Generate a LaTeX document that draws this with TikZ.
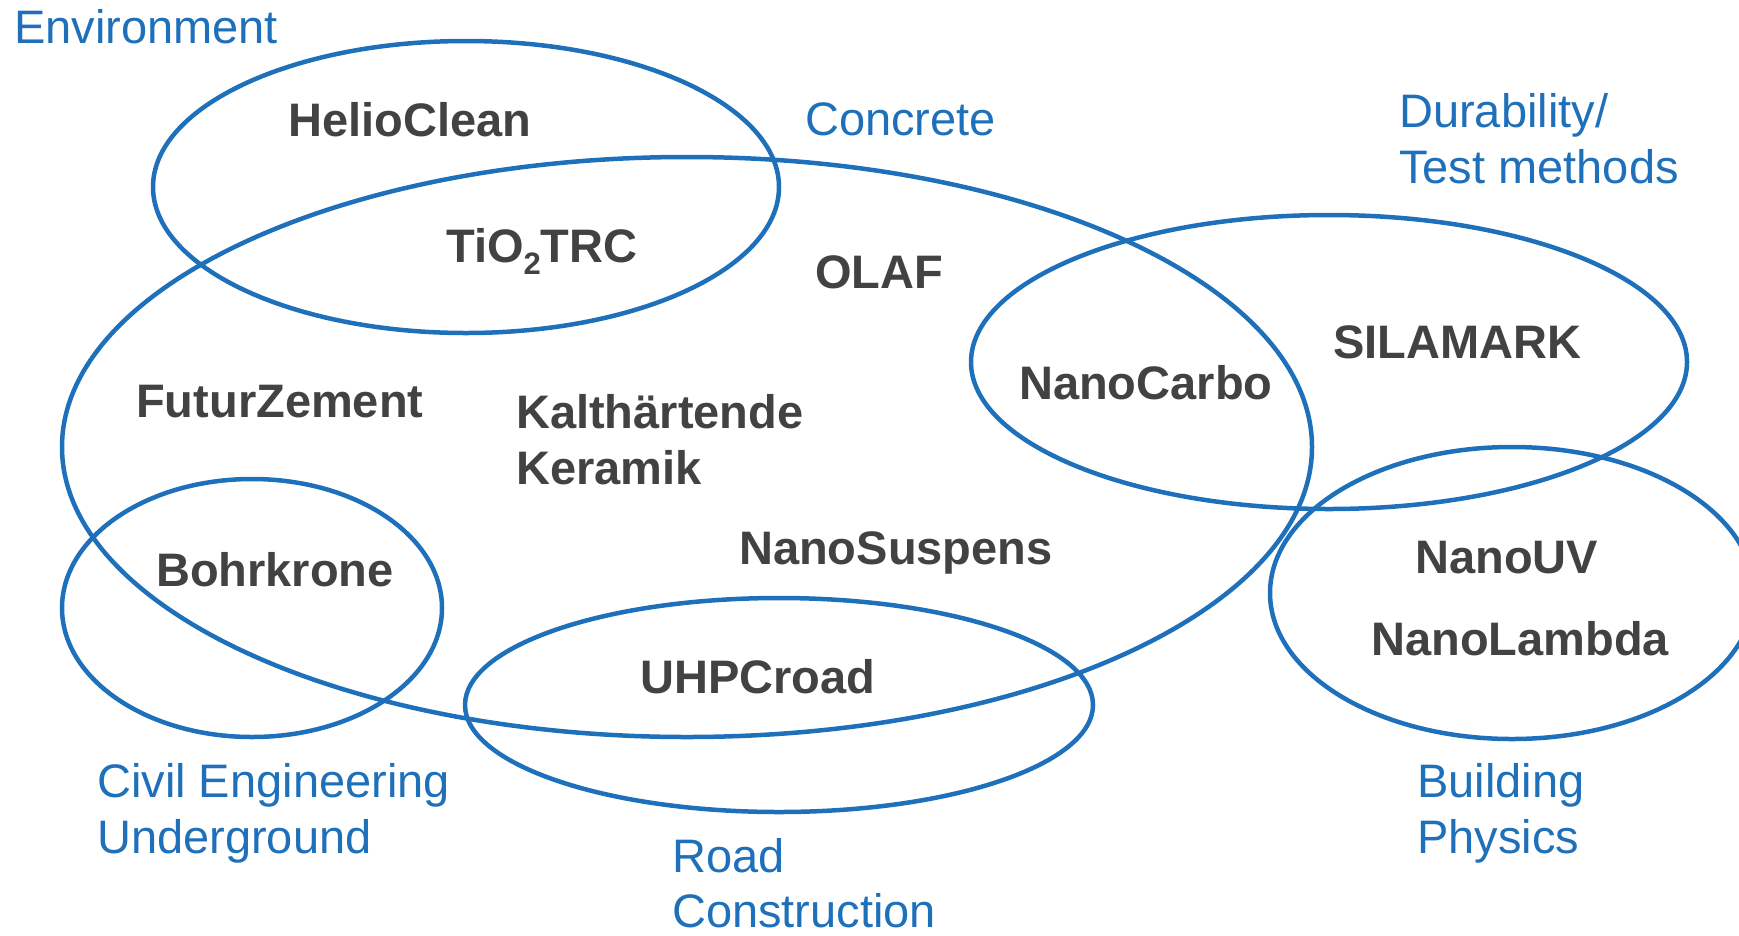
\documentclass[tikz,border=0pt]{standalone}
\usepackage{fontspec}
\setmainfont{Liberation Sans}
\definecolor{vblue}{RGB}{30,112,186}
\definecolor{vgray}{RGB}{66,66,66}
\begin{document}
\begin{tikzpicture}[x=1pt,y=-1pt,
  ring/.style={draw=vblue,line width=4.5pt},
  proj/.style={anchor=base west,inner sep=0pt,text=vgray,font=\fontsize{47pt}{56pt}\selectfont\bfseries},
  area/.style={anchor=base west,inner sep=0pt,text=vblue,font=\fontsize{47pt}{56pt}\selectfont}]
\useasboundingbox (0,0) rectangle (1739,935);
\clip (0,0) rectangle (1739,935);
% circles
\coordinate (env) at (466,187);
\coordinate (con) at (687,447);
\coordinate (dur) at (1329,362);
\coordinate (bph) at (1512,593);
\coordinate (civ) at (252,608);
\coordinate (road) at (779,705);
\draw[ring] (env) ellipse [x radius=313,y radius=146];
\draw[ring] (con) ellipse [x radius=625,y radius=290];
\draw[ring] (dur) ellipse [x radius=358,y radius=147];
\draw[ring] (bph) ellipse [x radius=242,y radius=146];
\draw[ring] (civ) ellipse [x radius=190,y radius=129];
\draw[ring] (road) ellipse [x radius=314,y radius=107];
% area labels
\node[area] (lenv) at (14,43) {Environment};
\node[area] (lcon) at (805,135) {Concrete};
\node[area] (ldur1) at (1399,127) {Durability/};
\node[area] (ldur2) at (1399,183) {Test methods};
\node[area] (lciv1) at (97,797) {Civil Engineering};
\node[area] (lciv2) at (97,853) {Underground};
\node[area] (lroad1) at (672,872) {Road};
\node[area] (lroad2) at (672,927) {Construction};
\node[area] (lbph1) at (1417,797) {Building};
\node[area] (lbph2) at (1417,853) {Physics};
% projects
\node[proj] (helio) at (288,136) {HelioClean};
\node[proj] (tio) at (446,262) {TiO\raisebox{-0.27em}{\fontsize{31pt}{31pt}\selectfont 2}TRC};
\node[proj] (olaf) at (815,288) {OLAF};
\node[proj] (sila) at (1333,358) {SILAMARK};
\node[proj] (carbo) at (1019,399) {NanoCarbo};
\node[proj] (futur) at (136,417) {FuturZement};
\node[proj] (kalt) at (516,428) {Kalthärtende};
\node[proj] (kera) at (516,484) {Keramik};
\node[proj] (bohr) at (156,586) {Bohrkrone};
\node[proj] (susp) at (739,564) {NanoSuspens};
\node[proj] (uhpc) at (640,693) {UHPCroad};
\node[proj] (nuv) at (1415,573) {NanoUV};
\node[proj] (nlam) at (1371,655) {NanoLambda};
\end{tikzpicture}
\end{document}
